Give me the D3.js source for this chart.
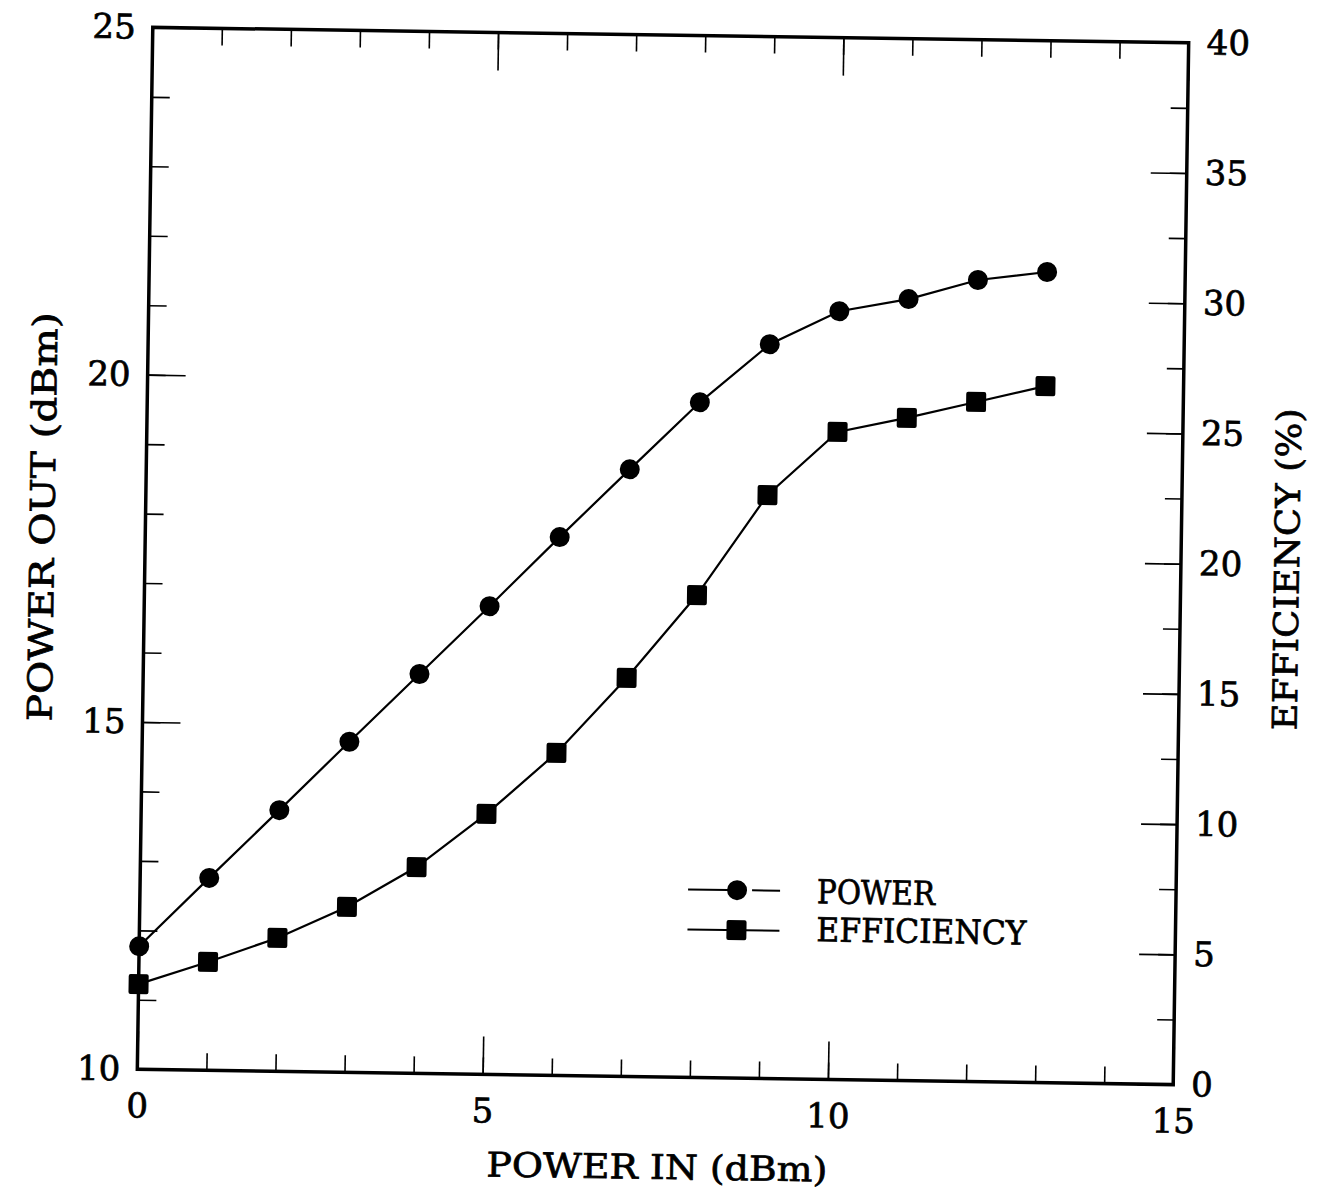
<!DOCTYPE html>
<html>
<head>
<meta charset="utf-8">
<script src="https://cdn.jsdelivr.net/npm/d3@7/dist/d3.min.js"></script>
<style>
  body { margin: 0; background: #fff; }
  svg { display: block; }
  text { font-family: "DejaVu Serif", "Liberation Serif", serif; fill: #000; stroke: #000; stroke-width: 0.7px; }
</style>
</head>
<body>
<div id="chart"></div>
<script>
// data
var powerIn = [0, 1, 2, 3, 4, 5, 6, 7, 8, 9, 10, 11, 12, 13];
var powerOut = [11.77, 12.77, 13.76, 14.76, 15.75, 16.74, 17.75, 18.74, 19.72, 20.57, 21.06, 21.25, 21.54, 21.67];
var efficiency = [3.27, 4.16, 5.12, 6.35, 7.92, 10.0, 12.38, 15.3, 18.52, 22.4, 24.86, 25.44, 26.09, 26.74];
var xTicks = [0, 5, 10, 15];
var leftTicks = [10, 15, 20, 25];
var rightTicks = [0, 5, 10, 15, 20, 25, 30, 35, 40];

var W = 1319, H = 1195;
// plot box (before the small tilt of the scan)
var pLeft = 145, pRight = 1181, pTop = 35, pBottom = 1077;

var svg = d3.select("#chart").append("svg")
    .attr("width", W)
    .attr("height", H);

// the scanned figure is tilted a little, so everything sits in a rotated group
var g = svg.append("g")
    .attr("transform", "rotate(0.85, 663, 556)");

var x = d3.scaleLinear().domain([0, 15]).range([pLeft, pRight]);
var yL = d3.scaleLinear().domain([10, 25]).range([pBottom, pTop]);
var yR = d3.scaleLinear().domain([0, 40]).range([pBottom, pTop]);

function styleAxis(sel){
    sel.select(".domain").remove();
    sel.selectAll(".tick line").attr("stroke", "#000").attr("stroke-width", 1.6);
    sel.selectAll(".tick text").style("font-size", "34px").attr("fill", "#000");
}

// minor ticks
g.append("g").attr("transform", "translate(0," + pBottom + ")")
    .call(d3.axisBottom(x).tickValues(d3.range(0, 16)).tickSize(-17).tickFormat(""))
    .call(styleAxis);
g.append("g").attr("transform", "translate(0," + pTop + ")")
    .call(d3.axisTop(x).tickValues(d3.range(0, 16)).tickSize(-17).tickFormat(""))
    .call(styleAxis);
g.append("g").attr("transform", "translate(" + pLeft + ",0)")
    .call(d3.axisLeft(yL).tickValues(d3.range(10, 26)).tickSize(-18).tickFormat(""))
    .call(styleAxis);
g.append("g").attr("transform", "translate(" + pRight + ",0)")
    .call(d3.axisRight(yR).tickValues(d3.range(0, 41, 2.5)).tickSize(-17).tickFormat(""))
    .call(styleAxis);

// major ticks with labels
g.append("g").attr("transform", "translate(0," + pBottom + ")")
    .call(d3.axisBottom(x).tickValues(xTicks).tickSize(-38).tickPadding(24).tickFormat(d3.format("d")))
    .call(styleAxis);
g.append("g").attr("transform", "translate(0," + pTop + ")")
    .call(d3.axisTop(x).tickValues(xTicks).tickSize(-38).tickFormat(""))
    .call(styleAxis);
g.append("g").attr("transform", "translate(" + pLeft + ",0)")
    .call(d3.axisLeft(yL).tickValues(leftTicks).tickSize(-38).tickPadding(17).tickFormat(d3.format("d")))
    .call(styleAxis);
g.append("g").attr("transform", "translate(" + pRight + ",0)")
    .call(d3.axisRight(yR).tickValues(rightTicks).tickSize(-36).tickPadding(18).tickFormat(d3.format("d")))
    .call(styleAxis);

// frame
g.append("rect")
    .attr("x", pLeft).attr("y", pTop)
    .attr("width", pRight - pLeft).attr("height", pBottom - pTop)
    .attr("fill", "none")
    .attr("stroke", "#000")
    .attr("stroke-width", 3.5);

// series
var lineP = d3.line()
    .x(function(d, i){ return x(powerIn[i]); })
    .y(function(d){ return yL(d); });
var lineE = d3.line()
    .x(function(d, i){ return x(powerIn[i]); })
    .y(function(d){ return yR(d); });

g.append("path").datum(powerOut)
    .attr("d", lineP)
    .attr("fill", "none").attr("stroke", "#000").attr("stroke-width", 2.2);
g.append("path").datum(efficiency)
    .attr("d", lineE)
    .attr("fill", "none").attr("stroke", "#000").attr("stroke-width", 2.2);

g.selectAll("circle.pw").data(powerOut).enter()
    .append("circle")
    .attr("class", "pw")
    .attr("cx", function(d, i){ return x(powerIn[i]); })
    .attr("cy", function(d){ return yL(d); })
    .attr("r", 10)
    .attr("fill", "#000");

g.selectAll("rect.ef").data(efficiency).enter()
    .append("rect")
    .attr("class", "ef")
    .attr("x", function(d, i){ return x(powerIn[i]) - 10; })
    .attr("y", function(d){ return yR(d) - 10; })
    .attr("width", 20).attr("height", 20)
    .attr("rx", 2)
    .attr("fill", "#000");

// legend
var lg = g.append("g");
lg.append("line").attr("x1", 693).attr("x2", 733).attr("y1", 889).attr("y2", 889)
    .attr("stroke", "#000").attr("stroke-width", 2);
lg.append("line").attr("x1", 757).attr("x2", 785).attr("y1", 889).attr("y2", 889)
    .attr("stroke", "#000").attr("stroke-width", 2);
lg.append("circle").attr("cx", 742).attr("cy", 889).attr("r", 10).attr("fill", "#000");
lg.append("line").attr("x1", 693).attr("x2", 785).attr("y1", 929).attr("y2", 929)
    .attr("stroke", "#000").attr("stroke-width", 2);
lg.append("rect").attr("x", 732).attr("y", 919).attr("width", 20).attr("height", 20)
    .attr("rx", 2).attr("fill", "#000");
lg.append("text").attr("x", 822).attr("y", 901)
    .style("font-size", "33px").attr("textLength", 118).attr("lengthAdjust", "spacingAndGlyphs")
    .text("POWER");
lg.append("text").attr("x", 822).attr("y", 939)
    .style("font-size", "33px").attr("textLength", 210).attr("lengthAdjust", "spacingAndGlyphs")
    .text("EFFICIENCY");

// axis titles
g.append("text")
    .attr("x", 666).attr("y", 1179)
    .attr("text-anchor", "middle")
    .style("font-size", "34px")
    .attr("textLength", 341).attr("lengthAdjust", "spacingAndGlyphs")
    .text("POWER IN (dBm)");

g.append("text")
    .attr("transform", "translate(54,526) rotate(-90)")
    .attr("text-anchor", "middle")
    .style("font-size", "34px")
    .attr("textLength", 409).attr("lengthAdjust", "spacingAndGlyphs")
    .text("POWER OUT (dBm)");

g.append("text")
    .attr("transform", "translate(1299,560) rotate(-90)")
    .attr("text-anchor", "middle")
    .style("font-size", "34px")
    .attr("textLength", 322).attr("lengthAdjust", "spacingAndGlyphs")
    .text("EFFICIENCY (%)");
</script>
</body>
</html>
